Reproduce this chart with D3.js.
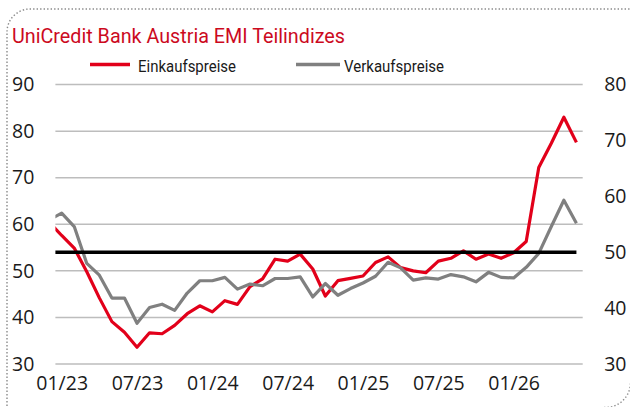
<!DOCTYPE html>
<html>
<head>
<meta charset="utf-8">
<script src="https://cdn.jsdelivr.net/npm/d3@7"></script>
<style>
html,body{margin:0;padding:0;background:#fff;}
svg{display:block;}
</style>
</head>
<body>
<div id="chart"></div>
<script>
// Months (first point 12/22 lies just left of the plot area and is clipped)
const months = ["12/22",
 "01/23","02/23","03/23","04/23","05/23","06/23","07/23","08/23","09/23","10/23","11/23","12/23",
 "01/24","02/24","03/24","04/24","05/24","06/24","07/24","08/24","09/24","10/24","11/24","12/24",
 "01/25","02/25","03/25","04/25","05/25","06/25","07/25","08/25","09/25","10/25","11/25","12/25",
 "01/26","02/26","03/26","04/26","05/26","06/26"];
// Einkaufspreise (left axis)
const einkauf = [60.5,
 57.6,54.9,49.8,44.2,39.1,36.8,33.6,36.7,36.5,38.3,40.8,42.5,
 41.2,43.6,42.8,46.6,48.3,52.5,52.1,53.6,50.4,44.6,47.9,48.4,
 48.9,51.8,53.0,50.7,50.0,49.6,52.1,52.7,54.3,52.5,53.6,52.7,
 53.9,56.3,72.2,77.4,83.0,77.6];
// Verkaufspreise (right axis)
const verkauf = [55.8,
 57.0,54.6,48.0,45.9,41.8,41.8,37.3,40.1,40.7,39.6,42.7,44.9,
 44.9,45.5,43.4,44.3,44.0,45.3,45.3,45.6,42.0,44.4,42.3,43.5,
 44.5,45.7,48.2,47.2,45.0,45.4,45.2,46.0,45.6,44.7,46.4,45.5,
 45.4,47.3,49.8,54.6,59.3,55.2];
// Threshold line (right axis)
const schwelle = months.map(() => 50);
const leftTicks = [30,40,50,60,70,80,90];
const rightTicks = [30,40,50,60,70,80];
const xTickLabels = ["01/23","07/23","01/24","07/24","01/25","07/25","01/26"];
const seriesNames = ["Einkaufspreise","Verkaufspreise"];

const W = 630, H = 407;
const plot = {left:55.4, right:582.7, top:84.6, bottom:364};
const RED = "#e2001a", GRAY = "#808080";

const svg = d3.select("#chart").append("svg").attr("width",W).attr("height",H);

// Dotted frame
svg.append("path")
  .attr("d","M7,420 V32 A23,23 0 0 1 30,9 H640")
  .attr("fill","none").attr("stroke","#8a8a8a").attr("stroke-width",1.4)
  .attr("stroke-dasharray","1.4,2.1");
svg.append("path")
  .attr("d","M604,407.5 A25,25 0 0 0 630.5,382")
  .attr("fill","none").attr("stroke","#8a8a8a").attr("stroke-width",1.4)
  .attr("stroke-dasharray","1.4,2.1");

// Title
svg.append("text").attr("x",12).attr("y",42.5)
  .attr("font-family","Roboto, 'Open Sans', sans-serif").attr("font-size",20.5)
  .attr("fill","#cc0a1e")
  .attr("textLength",333).attr("lengthAdjust","spacingAndGlyphs")
  .text("UniCredit Bank Austria EMI Teilindizes");

// Legend
const legend = [
  {name:seriesNames[0], color:RED, x1:90, x2:130, tx:138, tw:98},
  {name:seriesNames[1], color:GRAY, x1:296, x2:340, tx:344, tw:100}
];
legend.forEach(l => {
  svg.append("line").attr("x1",l.x1).attr("x2",l.x2).attr("y1",64.5).attr("y2",64.5)
    .attr("stroke",l.color).attr("stroke-width",3.4);
  svg.append("text").attr("x",l.tx).attr("y",71.8)
    .attr("font-family","Roboto, 'Open Sans', sans-serif").attr("font-size",17)
    .attr("fill","#1a1a1a")
    .attr("textLength",l.tw).attr("lengthAdjust","spacingAndGlyphs")
    .text(l.name);
});

// Scales
const x = d3.scaleLinear().domain([0.5, months.length - 0.5]).range([plot.left, plot.right]);
const yL = d3.scaleLinear().domain([30,90]).range([plot.bottom, plot.top]);
const yR = d3.scaleLinear().domain([30,80]).range([plot.bottom, plot.top]);

// Gridlines
svg.append("g").selectAll("line").data(leftTicks).join("line")
  .attr("x1",plot.left).attr("x2",plot.right)
  .attr("y1",d=>yL(d)).attr("y2",d=>yL(d))
  .attr("stroke","#bdbdbd").attr("stroke-width",1.5);

// Axes (labels only)
const fontAxis = "'Open Sans', sans-serif";
const axL = svg.append("g").attr("transform",`translate(${plot.left},0)`)
  .call(d3.axisLeft(yL).tickValues(leftTicks).tickSize(0).tickPadding(21));
const axR = svg.append("g").attr("transform",`translate(${plot.right},0)`)
  .call(d3.axisRight(yR).tickValues(rightTicks).tickSize(0).tickPadding(21.5));
const xIdx = xTickLabels.map(l => months.indexOf(l));
const axB = svg.append("g").attr("transform",`translate(0,${plot.bottom})`)
  .call(d3.axisBottom(x).tickValues(xIdx).tickFormat(i => months[i]).tickSize(0).tickPadding(12));
[axL,axR,axB].forEach(a => {
  a.select(".domain").remove();
  a.selectAll("text").attr("font-family",fontAxis).attr("font-size",19.5).attr("fill","#1a1a1a");
});

// Clip
svg.append("clipPath").attr("id","clip").append("rect")
  .attr("x",plot.left).attr("y",0).attr("width",plot.right-plot.left).attr("height",H);

const lineL = d3.line().x((d,i)=>x(i)).y(d=>yL(d));
const lineR = d3.line().x((d,i)=>x(i)).y(d=>yR(d));
const g = svg.append("g").attr("clip-path","url(#clip)");
g.append("path").datum(einkauf).attr("d",lineL).attr("fill","none")
  .attr("stroke",RED).attr("stroke-width",3.2).attr("stroke-linejoin","round");
g.append("path").datum(verkauf).attr("d",lineR).attr("fill","none")
  .attr("stroke",GRAY).attr("stroke-width",3.2).attr("stroke-linejoin","round");
g.append("path").datum(schwelle).attr("d",lineR).attr("fill","none")
  .attr("stroke","#000").attr("stroke-width",3.6);
</script>
</body>
</html>
